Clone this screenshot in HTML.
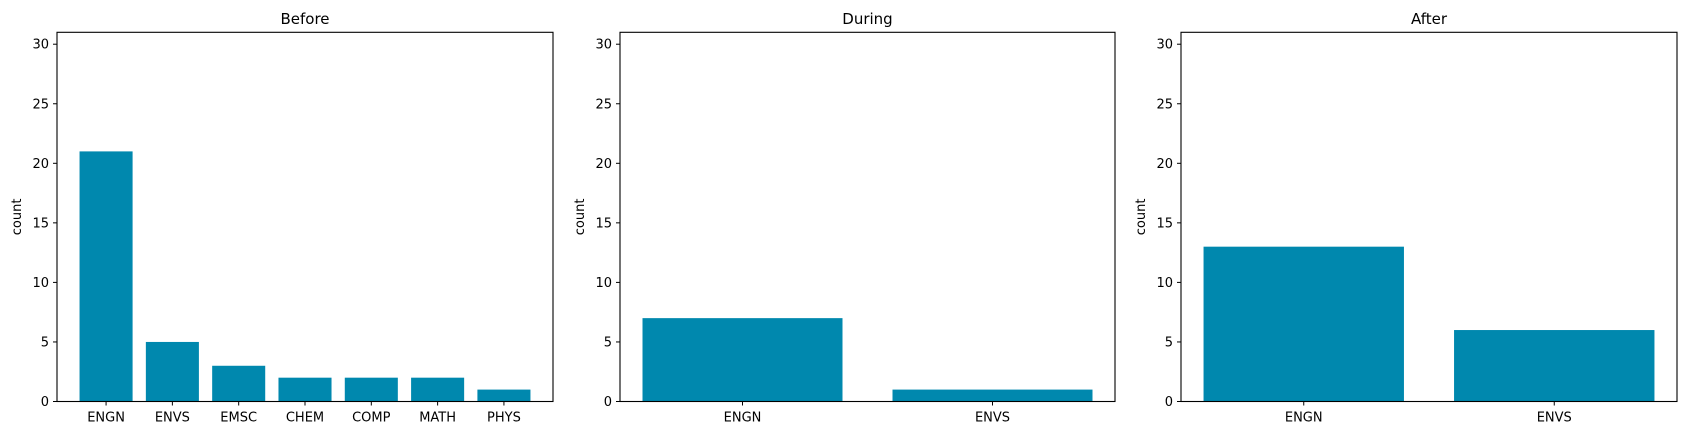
<!DOCTYPE html>
<html><head><meta charset="utf-8"><style>
body{margin:0;background:#fff;font-family:"Liberation Sans","DejaVu Sans",sans-serif}
svg text{font-family:"DejaVu Sans","Liberation Sans",sans-serif;fill:#000}
</style></head><body>
<svg id="fig" width="1686" height="435" xmlns="http://www.w3.org/2000/svg"></svg>
<script>
const titles = ["Before","During","After"];
const cats0 = ["ENGN","ENVS","EMSC","CHEM","COMP","MATH","PHYS"];
const vals0 = [21,5,3,2,2,2,1];
const cats1 = ["ENGN","ENVS"];
const vals1 = [7,1];
const cats2 = ["ENGN","ENVS"];
const vals2 = [13,6];
const yTicks = [0,5,10,15,20,25,30];
const yMax = 31;

const NS="http://www.w3.org/2000/svg";
const svg=document.getElementById('fig');
function mk(tag,attrs,parent){const e=document.createElementNS(NS,tag);for(const k in attrs)e.setAttribute(k,attrs[k]);(parent||svg).appendChild(e);return e;}
const panels=[{l:57,r:553,cats:cats0,vals:vals0},{l:620,r:1115,cats:cats1,vals:vals1},{l:1181,r:1677,cats:cats2,vals:vals2}];
const axTop=32.3,axBot=401.5;
panels.forEach((p,i)=>{
  const g=mk('g',{});
  
  
  const n=p.cats.length;
  const x0=-0.4-0.05*(n-1+0.8), x1=n-1+0.4+0.05*(n-1+0.8);
  const sx=v=>p.l+(v-x0)/(x1-x0)*(p.r-p.l);
  const sy=v=>axBot-v/yMax*(axBot-axTop);
  p.cats.forEach((c,j)=>{
    const b=mk('rect',{x:sx(j-0.4),y:sy(p.vals[j]),width:sx(j+0.4)-sx(j-0.4),height:axBot-sy(p.vals[j]),fill:'#0088ae'},g);
    
    
    mk('line',{x1:sx(j),x2:sx(j),y1:axBot,y2:axBot+4,stroke:'#000','stroke-width':1},g);
    const t=mk('text',{x:sx(j),y:axBot+20,'text-anchor':'middle','font-size':13},g);
    t.textContent=c;
    
    
  });
  yTicks.forEach(v=>{
    mk('line',{x1:p.l-4,x2:p.l,y1:sy(v),y2:sy(v),stroke:'#000','stroke-width':1},g);
    const t=mk('text',{x:p.l-8,y:sy(v)+4.5,'text-anchor':'end','font-size':13},g);
    t.textContent=v;
    
    
  });
  mk('rect',{x:p.l,y:axTop,width:p.r-p.l,height:axBot-axTop,fill:'none',stroke:'#000','stroke-width':1.1},g);
  const tt=mk('text',{x:(p.l+p.r)/2,y:24,'text-anchor':'middle','font-size':15},g);
  tt.textContent=titles[i];
  
  
  const yl=mk('text',{x:0,y:0,'text-anchor':'middle','font-size':13,transform:`translate(${p.l-36},${(axTop+axBot)/2}) rotate(-90)`},g);
  yl.textContent='count';
  
  
});
</script>
</body></html>
